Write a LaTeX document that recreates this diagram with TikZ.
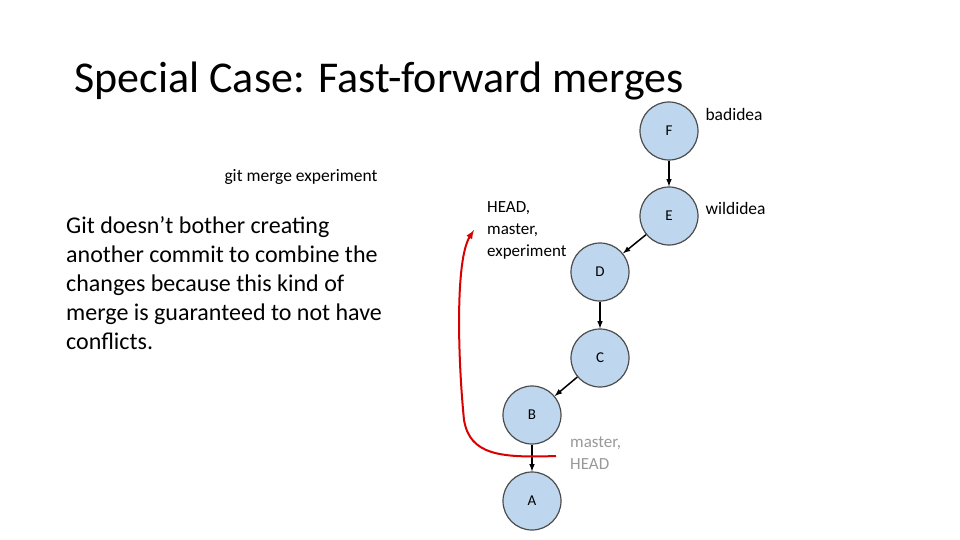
\documentclass[tikz,border=0pt]{standalone}
\usepackage{fontspec}
\setmainfont{Carlito}
\begin{document}
\begin{tikzpicture}[x=1pt,y=-1pt,
  commit/.style={circle,draw=black!70,line width=1.2pt,minimum size=58pt,inner sep=0pt,font=\fontsize{15}{17}\selectfont},
  link/.style={-latex,line width=1.5pt}]
\useasboundingbox (0,0) rectangle (960,540);
\definecolor{cfill}{RGB}{190,215,238}
\tikzset{commit/.append style={fill=cfill}}
\node[anchor=west,font=\fontsize{44}{46}\selectfont] (title) at (71,81) {Special Case: Fast-forward merges};
\node[font=\fontsize{17.5}{20}\selectfont] (cmd) at (301,177) {git merge experiment};
\node[anchor=north west,align=left,font=\fontsize{24}{29}\selectfont,inner sep=0pt] (para) at (66,216) {Git doesn’t bother creating\\another commit to combine the\\changes because this kind of\\merge is guaranteed to not have\\conflicts.};
\node[commit] (F) at (669,131) {F};
\node[commit] (E) at (669,216) {E};
\node[commit] (D) at (600,272) {D};
\node[commit] (C) at (600,358) {C};
\node[commit] (B) at (532,415) {B};
\node[commit] (A) at (532,501) {A};
\draw[link] (F) -- (E);
\draw[link] (E) -- (D);
\draw[link] (D) -- (C);
\draw[link] (C) -- (B);
\draw[link] (B) -- (A);
\node[anchor=west,font=\fontsize{17.5}{20}\selectfont] (bad) at (702,114) {badidea};
\node[anchor=west,font=\fontsize{17.5}{20}\selectfont] (wild) at (702,208) {wildidea};
\node[anchor=north west,align=left,inner sep=0pt,font=\fontsize{17}{22}\selectfont] (head1) at (487,201) {HEAD,\\master,\\experiment};
\node[anchor=north west,align=left,inner sep=0pt,text=black!40,font=\fontsize{17}{22}\selectfont] (head2) at (570,437) {master,\\HEAD};
\coordinate (rs) at (556,456);
\coordinate (re) at (474,230);
\draw[-latex,red!85!black,line width=2pt] (rs) .. controls (500,458) and (470,455) .. (464,420) .. controls (458,360) and (455,260) .. (re);
\end{tikzpicture}
\end{document}
